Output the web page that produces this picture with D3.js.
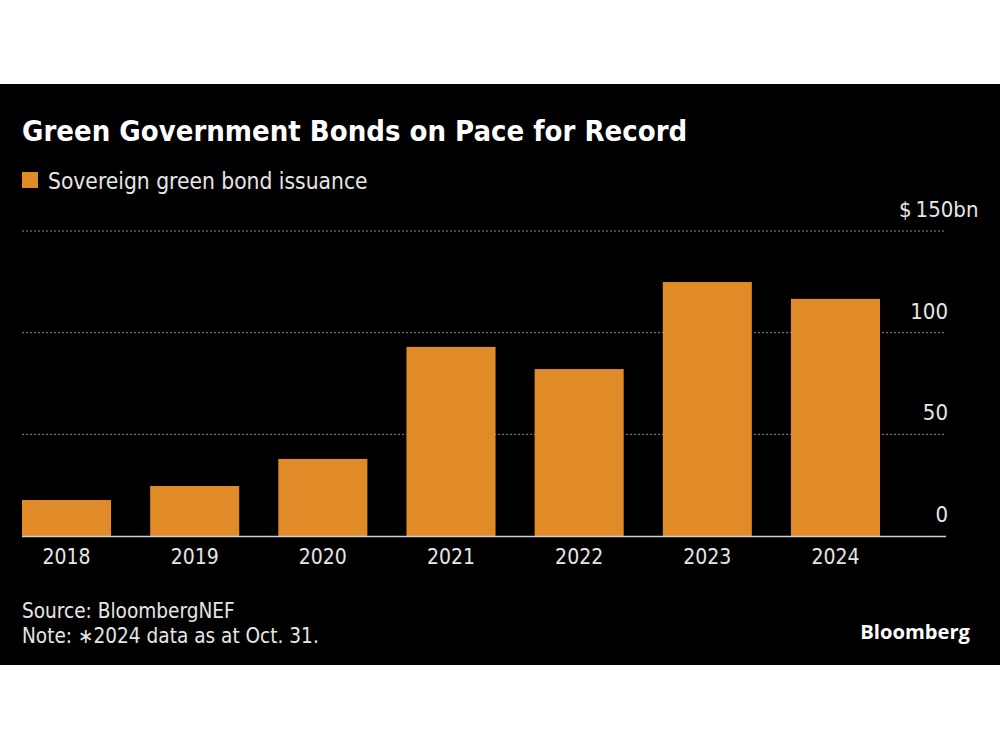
<!DOCTYPE html>
<html><head><meta charset="utf-8">
<script src="https://cdn.jsdelivr.net/npm/d3@7"></script>
<style>body{margin:0;background:#fff}svg{display:block}</style>
</head><body>
<svg id="c" width="1000" height="750"></svg>
<script>
const years = ["2018","2019","2020","2021","2022","2023","2024"];
const issuance = [17.7, 24.6, 37.9, 93.0, 82.1, 124.9, 116.6];
const yTicks = [0, 50, 100, 150];

const svg = d3.select("#c");
const font = "'DejaVu Sans Condensed', 'DejaVu Sans', sans-serif";
svg.append("rect").attr("x",0).attr("y",84).attr("width",1000).attr("height",581).attr("fill","#000");

const x = d3.scaleBand().domain(years).range([22, 880]).paddingInner(0.305).paddingOuter(0);
const y = d3.scaleLinear().domain([0,150]).range([536, 231]);

// grid
svg.append("g").selectAll("line").data(yTicks.filter(d=>d>0)).join("line")
  .attr("x1",22).attr("x2",946).attr("y1",d=>y(d)).attr("y2",d=>y(d))
  .attr("stroke","#8a8a8a").attr("stroke-width",1).attr("stroke-dasharray","2,2");

// bars
svg.append("g").selectAll("rect").data(issuance).join("rect")
  .attr("x",(d,i)=>x(years[i])).attr("width",x.bandwidth())
  .attr("y",d=>y(d)).attr("height",d=>y(0)-y(d)).attr("fill","#E08A28");

// baseline
svg.append("line").attr("x1",22).attr("x2",946).attr("y1",y(0)+0.5).attr("y2",y(0)+0.5)
  .attr("stroke","#d0d0d0").attr("stroke-width",1.5);

// y labels
const yl = svg.append("g").selectAll("text").data(yTicks).join("text")
  .attr("x",948).attr("y",d=>y(d)-14)
  .attr("text-anchor","end").attr("fill","#e6e6e6")
  .attr("font-family",font).attr("font-size",22);
yl.each(function(d){
  const t = d3.select(this);
  if (d===150){ t.attr("text-anchor","start").attr("x",899).text("$\u2009150bn"); }
  else t.text(d);
});

// x axis labels
const xAxis = d3.axisBottom(x).tickSize(0).tickPadding(9);
const gx = svg.append("g").attr("transform",`translate(0,${y(0)})`).call(xAxis);
gx.select(".domain").remove();
gx.selectAll("text").attr("fill","#e6e6e6").attr("font-family",font).attr("font-size",21).attr("dy","0.9em");

// title
svg.append("text").attr("x",22).attr("y",141).text("Green Government Bonds on Pace for Record")
  .attr("fill","#fff").attr("font-family",font).attr("font-weight","bold").attr("font-size",29);
// legend
svg.append("rect").attr("x",22).attr("y",172).attr("width",16).attr("height",16).attr("fill","#E08A28");
svg.append("text").attr("x",48).attr("y",189).text("Sovereign green bond issuance")
  .attr("fill","#e6e6e6").attr("font-family",font).attr("font-size",22.6);

// footer
svg.append("text").attr("x",22).attr("y",618).text("Source: BloombergNEF")
  .attr("fill","#e6e6e6").attr("font-family",font).attr("font-size",20.6);
svg.append("text").attr("x",22).attr("y",643).text("Note: \u22172024 data as at Oct. 31.")
  .attr("fill","#e6e6e6").attr("font-family",font).attr("font-size",20.6);
svg.append("text").attr("x",970).attr("y",639).attr("text-anchor","end").text("Bloomberg")
  .attr("fill","#fff").attr("font-family","'Open Sans', 'Noto Sans', sans-serif").attr("font-weight","bold").attr("font-size",20.2);
</script>
</body></html>
